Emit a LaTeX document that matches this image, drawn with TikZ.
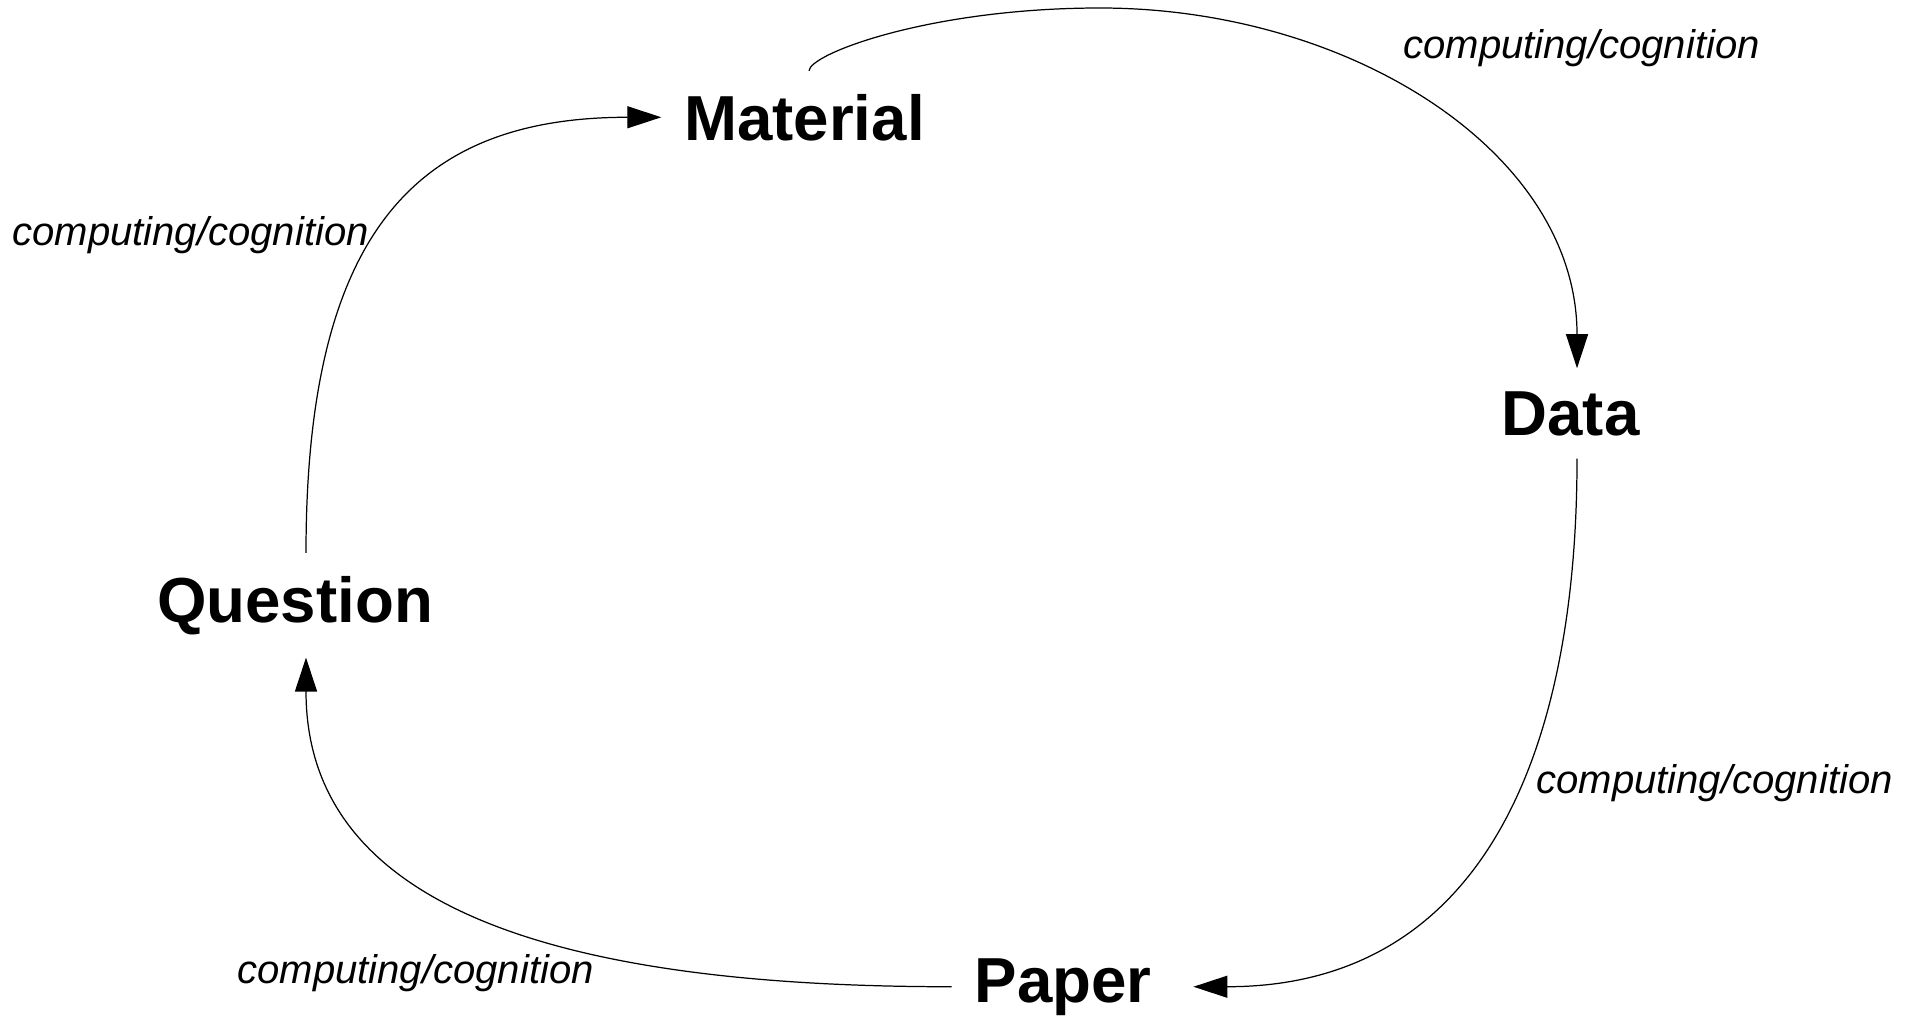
\documentclass[tikz,border=0pt]{standalone}
\usepackage{fontspec}
\setmainfont{Liberation Sans}
\usetikzlibrary{arrows.meta}
\tikzset{
	stage/.style={font=\fontsize{18.1pt}{21pt}\selectfont\bfseries, inner sep=0pt, outer sep=0.23cm, anchor=base},
	note/.style={font=\fontsize{11.4pt}{13pt}\selectfont\itshape, inner sep=0pt, anchor=base},
	link/.style={line width=0.35pt, -{Triangle[length=3.4mm,width=2.2mm]}}
}
\begin{document}
\begin{tikzpicture}
		\useasboundingbox (0,0) rectangle (19.18,-10.16);
		
		\node [stage] (material) at (8.045,-1.40) {Material};
		\node [stage] (data) at (15.705,-4.35) {Data};
		\node [stage] (paper) at (10.63,-10.02) {Paper};
		\node [stage] (question) at (2.95,-6.22) {Question};
		
		\draw [link] ([xshift=0.11cm]question.north) .. controls +(0,3.23) and +(-2.43,0) .. (material.west);
		\draw [link] ([xshift=0.045cm]material.north) .. controls +(0,0.17) and +(-1.70,0) .. (11.00,-0.08) .. controls +(2.50,0) and +(0,2.16) .. ([xshift=0.065cm]data.north);
		\draw [link] ([xshift=0.065cm]data.south) .. controls +(0,-3.00) and +(2.86,0) .. ([xshift=0.19cm]paper.east);
		\draw [link] (paper.west) .. controls +(-3.95,0) and +(0,-2.50) .. ([xshift=0.11cm]question.south);
		
		\node [note] (top) at (15.815,-0.58) {computing/cognition};
		\node [note] (left) at (1.905,-2.45) {computing/cognition};
		\node [note] (right) at (17.145,-7.93) {computing/cognition};
		\node [note] (bottom) at (4.155,-9.83) {computing/cognition};
\end{tikzpicture}
\end{document}
